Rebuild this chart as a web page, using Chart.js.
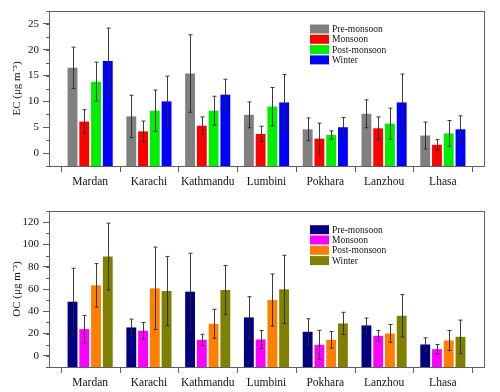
<!DOCTYPE html>
<html>
<head>
<meta charset="utf-8">
<script src="https://cdn.jsdelivr.net/npm/chart.js@4.4.1/dist/chart.umd.min.js"></script>
<style>
  body { margin: 0; background: #fff; }
  canvas { display: block; }
</style>
</head>
<body>
<canvas id="ec_chart" width="500" height="190"></canvas>
<canvas id="oc_chart" width="500" height="202"></canvas>
<script>
const sites = ["Mardan", "Karachi", "Kathmandu", "Lumbini", "Pokhara", "Lanzhou", "Lhasa"];
const seasons = ["Pre-monsoon", "Monsoon", "Post-monsoon", "Winter"];

// EC (ug m-3), mean and std dev per site
const ecPre = [16.5, 7.1, 15.4, 7.4, 4.6, 7.6, 3.4];
const ecPreSd = [4.0, 4.1, 7.5, 2.5, 2.2, 2.7, 2.6];
const ecMon = [6.1, 4.2, 5.3, 3.7, 2.8, 4.8, 1.6];
const ecMonSd = [2.3, 2.0, 1.7, 1.5, 3.0, 2.2, 1.0];
const ecPost = [13.8, 8.2, 8.2, 9.0, 3.5, 5.7, 3.8];
const ecPostSd = [3.8, 4.0, 2.8, 3.7, 0.8, 3.0, 2.5];
const ecWin = [17.8, 10.0, 11.3, 9.8, 5.0, 9.8, 4.6];
const ecWinSd = [6.4, 4.9, 3.0, 5.4, 1.9, 5.5, 2.6];

// OC (ug m-3)
const ocPre = [48.6, 25.5, 57.6, 34.5, 21.6, 27.3, 10.2];
const ocPreSd = [30, 7.5, 34.5, 18.6, 11.7, 6.6, 6.0];
const ocMon = [24, 22.5, 14.4, 14.7, 9.9, 18, 6];
const ocMonSd = [12.3, 7.5, 5, 8, 13, 4.8, 4.2];
const ocPost = [63.3, 60.6, 28.8, 50.1, 14.4, 20.1, 13.8];
const ocPostSd = [19.5, 37, 13, 23.4, 7.5, 8, 9];
const ocWin = [89.1, 58.2, 59.1, 59.7, 29.1, 36, 17.1];
const ocWinSd = [30, 31, 22, 30.6, 10, 19, 15];

const ecTicks = [0, 5, 10, 15, 20, 25];
const ocTicks = [0, 20, 40, 60, 80, 100, 120];

const serif = '"Liberation Serif", "Times New Roman", serif';
const frameColor = "#606060";

// frame, minor ticks, category boundary ticks, error bars, legend
const decorations = {
    id: "decorations",
    afterDatasetsDraw(chart) {
        const { ctx, chartArea: a, scales } = chart;
        const o = chart.options.plugins.decorations;
        ctx.save();

        // error bars
        ctx.strokeStyle = "rgba(40,40,40,0.9)";
        ctx.lineWidth = 1;
        chart.data.datasets.forEach((ds, di) => {
            const meta = chart.getDatasetMeta(di);
            meta.data.forEach((bar, i) => {
                const v = ds.data[i].y;
                const sd = ds.sd[i];
                const x = Math.round(bar.x) + 0.5;
                const yt = scales.y.getPixelForValue(v + sd);
                const yb = scales.y.getPixelForValue(v - sd);
                ctx.beginPath();
                ctx.moveTo(x, yt);
                ctx.lineTo(x, yb);
                ctx.moveTo(x - 2, yt);
                ctx.lineTo(x + 2, yt);
                ctx.moveTo(x - 2, yb);
                ctx.lineTo(x + 2, yb);
                ctx.stroke();
            });
        });

        // frame
        ctx.strokeStyle = frameColor;
        ctx.strokeRect(Math.round(a.left) + 0.5, Math.round(a.top) + 0.5,
            Math.round(a.right - a.left), Math.round(a.bottom - a.top));

        // minor y ticks
        ctx.beginPath();
        for (let v = o.minorStart; v <= scales.y.max; v += o.minorStep) {
            const y = Math.round(scales.y.getPixelForValue(v)) + 0.5;
            ctx.moveTo(a.left - 3, y);
            ctx.lineTo(a.left, y);
        }
        // category boundary ticks on x
        for (let i = 0; i <= sites.length; i++) {
            const x = Math.round(scales.x.getPixelForValue(i - 0.5)) + 0.5;
            ctx.moveTo(x, a.bottom);
            ctx.lineTo(x, a.bottom + 6);
        }
        ctx.stroke();

        // legend
        ctx.font = "9.5px " + serif;
        ctx.textBaseline = "middle";
        ctx.textAlign = "left";
        chart.data.datasets.forEach((ds, di) => {
            const cy = o.legendY + di * 10.3;
            ctx.fillStyle = ds.backgroundColor;
            ctx.fillRect(o.legendX, cy - 4.5, 19, 9);
            ctx.fillStyle = "#111";
            ctx.fillText(ds.label, o.legendX + 22, cy + 0.5);
        });
        ctx.restore();
    },
};

function makeChart(el, cfg) {
    const datasets = cfg.values.map((vals, k) => ({
        label: seasons[k],
        data: vals.map((v, i) => ({ x: i, y: v })),
        sd: cfg.sds[k],
        backgroundColor: cfg.colors[k],
        base: cfg.yMin,
        categoryPercentage: 0.8,
        barPercentage: 0.84,
    }));
    return new Chart(el, {
        type: "bar",
        data: { datasets: datasets },
        options: {
            responsive: false,
            animation: false,
            devicePixelRatio: 1,
            layout: { padding: { top: cfg.top, right: 16, left: 0, bottom: 0 } },
            plugins: {
                legend: { display: false },
                tooltip: { enabled: false },
                decorations: cfg.deco,
            },
            scales: {
                x: {
                    type: "linear",
                    offset: false,
                    min: -0.7,
                    max: 6.7,
                    afterBuildTicks: (s) => {
                        s.ticks = sites.map((_, i) => ({ value: i }));
                    },
                    afterFit: (s) => {
                        s.height = cfg.xHeight;
                    },
                    grid: { display: false, drawTicks: false, offset: false },
                    border: { display: false },
                    ticks: {
                        padding: 9,
                        autoSkip: false,
                        maxRotation: 0,
                        color: "#111",
                        font: { family: serif, size: 11.5 },
                        callback: (v) => sites[v] || "",
                    },
                },
                y: {
                    min: cfg.yMin,
                    max: cfg.yMax,
                    afterBuildTicks: (s) => {
                        s.ticks = cfg.ticks.map((v) => ({ value: v }));
                    },
                    afterFit: (s) => {
                        s.width = 49;
                    },
                    grid: {
                        drawOnChartArea: false,
                        drawTicks: true,
                        tickLength: 6,
                        color: frameColor,
                    },
                    border: { display: false },
                    ticks: {
                        padding: 4,
                        color: "#111",
                        font: { family: serif, size: 11 },
                    },
                    title: {
                        display: true,
                        text: cfg.title,
                        color: "#111",
                        padding: { top: 11, bottom: 0 },
                        font: { family: serif, size: 11 },
                    },
                },
            },
        },
        plugins: [decorations],
    });
}

makeChart(document.getElementById("ec_chart"), {
    values: [ecPre, ecMon, ecPost, ecWin],
    sds: [ecPreSd, ecMonSd, ecPostSd, ecWinSd],
    colors: ["#808080", "#ff0000", "#00ee00", "#0000ff"],
    yMin: -2.5,
    yMax: 27.5,
    ticks: ecTicks,
    title: "EC (\u03bcg m\u207b\u00b3)",
    top: 11,
    xHeight: 24,
    deco: { minorStart: -2.5, minorStep: 2.5, legendX: 310, legendY: 29 },
});

makeChart(document.getElementById("oc_chart"), {
    values: [ocPre, ocMon, ocPost, ocWin],
    sds: [ocPreSd, ocMonSd, ocPostSd, ocWinSd],
    colors: ["#000080", "#ff00ff", "#ff8000", "#808000"],
    yMin: -10,
    yMax: 130,
    ticks: ocTicks,
    title: "OC (\u03bcg m\u207b\u00b3)",
    top: 21,
    xHeight: 25,
    deco: { minorStart: -10, minorStep: 10, legendX: 310, legendY: 39.7 },
});
</script>
</body>
</html>
